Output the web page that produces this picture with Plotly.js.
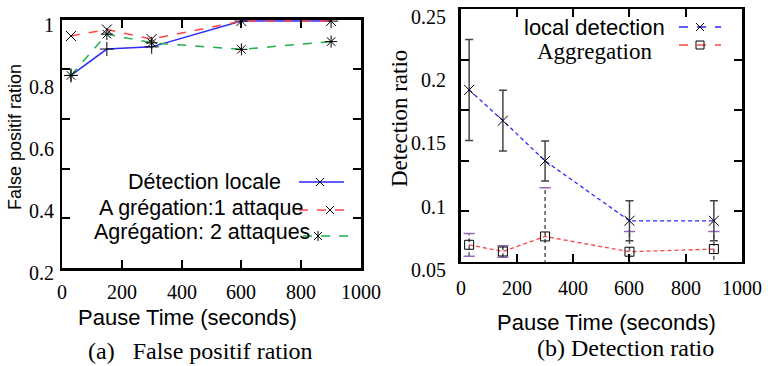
<!DOCTYPE html>
<html>
<head>
<meta charset="utf-8">
<script src="https://cdn.plot.ly/plotly-3.0.1.min.js"></script>
<style>html,body{margin:0;padding:0;background:#fff;}#chart{width:768px;height:366px;}</style>
</head>
<body>
<div id="chart"></div>
<script>
// ---------- data ----------
const pauseTimes = [30, 150, 300, 600, 900];
// (a) False positif ration
const fpLocal = [0.82, 0.905, 0.912, 0.995, 0.995];
const fpAgg1 = [0.947, 0.968, 0.937, 0.995, 0.995];
const fpAgg2 = [0.82, 0.953, 0.925, 0.904, 0.929];
// (b) Detection ratio
const drLocal = [0.186, 0.1617, 0.1298, 0.0824, 0.0824];
const drLocalErr = [0.040, 0.024, 0.0158, 0.0158, 0.0158];
const drAgg = [0.0634, 0.0581, 0.070, 0.0579, 0.060];
const drAggErr = [0.009, 0.0045, 0.0385, 0.016, 0.014];
// ticks
const xTickVals = [0, 200, 400, 600, 800, 1000];
const xTickText = ['0', '200', '400', '600', '800', '1000'];
const yTickValsA = [0.2, 0.4, 0.6, 0.8, 1];
const yTickTextA = ['0.2', '0.4', '0.6', '0.8', '1'];
const yMinorA = [0.36, 0.52, 0.68, 0.84];
const yTickValsB = [0.05, 0.1, 0.15, 0.2, 0.25];
const yTickTextB = ['0.05', '0.1', '0.15', '0.2', '0.25'];
const yMinorB = [0.09, 0.13, 0.17, 0.21];
const legendA = ['Détection locale', 'A grégation:1 attaque', 'Agrégation: 2 attaques'];
const legendB = ['local detection', 'Aggregation'];

// ---------- helpers ----------
const W = 768, H = 366;
const P = x => x / W;
const Q = y => 1 - y / H;
const SANS = 'Liberation Sans';
const SERIF = 'Liberation Serif';

// dashed error bars for aggregation, built from data
const aggErrX = [], aggErrY = [];
pauseTimes.forEach((x, i) => {
  aggErrX.push(x, x, null);
  aggErrY.push(drAgg[i] - drAggErr[i], drAgg[i] + drAggErr[i], null);
});
const aggCapX = pauseTimes.concat(pauseTimes);
const aggCapY = drAgg.map((v, i) => v + drAggErr[i]).concat(drAgg.map((v, i) => v - drAggErr[i]));

const mk = (sym) => ({symbol: sym, size: 10, color: 'black', line: {color: 'black', width: 1}});

const traces = [
  {x: pauseTimes, y: fpLocal, xaxis: 'x', yaxis: 'y', mode: 'lines+markers',
   line: {color: '#2a2aff', width: 1.5}, marker: mk('cross-thin')},
  {x: pauseTimes, y: fpAgg1, xaxis: 'x', yaxis: 'y', mode: 'lines+markers',
   line: {color: '#ff4545', width: 1.5, dash: 'dash'}, marker: mk('x-thin')},
  {x: pauseTimes, y: fpAgg2, xaxis: 'x', yaxis: 'y', mode: 'lines+markers',
   line: {color: '#22b04a', width: 1.5, dash: 'dash'}, marker: mk('asterisk')},
  // right
  {x: aggErrX, y: aggErrY, xaxis: 'x2', yaxis: 'y2', mode: 'lines',
   line: {color: '#555', width: 1.5, dash: '4px,3px'}, hoverinfo: 'skip'},
  {x: aggCapX, y: aggCapY, xaxis: 'x2', yaxis: 'y2', mode: 'markers',
   marker: {symbol: 'line-ew-open', size: 8, line: {color: '#555', width: 1.5}}},
  {x: pauseTimes, y: drLocal, xaxis: 'x2', yaxis: 'y2', mode: 'lines+markers',
   line: {color: '#2a2aff', width: 1.3, dash: '4px,3px'}, marker: mk('x-thin'),
   error_y: {type: 'data', array: drLocalErr, visible: true, color: '#444', thickness: 1.5, width: 4}},
  {x: pauseTimes, y: drAgg, xaxis: 'x2', yaxis: 'y2', mode: 'lines+markers',
   line: {color: '#ff4545', width: 1.3, dash: '4px,3px'},
   marker: {symbol: 'square-open', size: 9, color: 'black', line: {color: 'black', width: 1}}},
  // empty traces so the tick-only overlay axes get drawn
  {x: [], y: [], xaxis: 'x', yaxis: 'y3', mode: 'markers'},
  {x: [], y: [], xaxis: 'x2', yaxis: 'y4', mode: 'markers'}
];

const frame = {
  showline: true, linecolor: 'black', linewidth: 2.5, mirror: 'ticks',
  showgrid: false, zeroline: false, fixedrange: true, showticklabels: false,
  ticklen: 8, tickwidth: 2, tickcolor: 'black', tickmode: 'array'
};

const domXA = [P(62), P(361)], domYA = [Q(268), Q(19.5)];
const domXB = [P(460.7), P(742)], domYB = [Q(261.7), Q(9)];
const rangeA = [0.2, 1.0001], rangeB = [0.05, 0.2501];

const layout = {
  width: W, height: H,
  margin: {l: 0, r: 0, t: 0, b: 0},
  paper_bgcolor: 'white', plot_bgcolor: 'rgba(0,0,0,0)',
  showlegend: false,
  font: {family: SERIF, size: 20, color: 'black'},
  xaxis: Object.assign({}, frame, {domain: domXA, anchor: 'y', range: [0, 1000], tickvals: xTickVals, ticks: 'inside'}),
  yaxis: Object.assign({}, frame, {domain: domYA, anchor: 'x', range: rangeA, tickvals: yTickValsA, ticks: ''}),
  yaxis3: Object.assign({}, frame, {domain: domYA, anchor: 'x', overlaying: 'y', side: 'left', range: rangeA, tickvals: yMinorA, ticks: 'inside'}),
  xaxis2: Object.assign({}, frame, {domain: domXB, anchor: 'y2', range: [0, 1000], tickvals: xTickVals, ticks: 'inside'}),
  yaxis2: Object.assign({}, frame, {domain: domYB, anchor: 'x2', range: rangeB, tickvals: yTickValsB, ticks: ''}),
  yaxis4: Object.assign({}, frame, {domain: domYB, anchor: 'x2', overlaying: 'y2', side: 'left', range: rangeB, tickvals: yMinorB, ticks: 'inside'}),
  annotations: [],
  shapes: []
};

const ann = (text, x, y, family, size, extra) => layout.annotations.push(Object.assign({
  text: text, xref: 'paper', yref: 'paper', x: P(x), y: Q(y),
  xanchor: 'center', yanchor: 'middle', showarrow: false,
  font: {family: family, size: size, color: 'black'}
}, extra || {}));

// tick labels (placed through the axes' own scales)
const tickFont = {family: SERIF, size: 20, color: 'black'};
xTickVals.forEach((v, i) => {
  layout.annotations.push({text: xTickText[i], xref: 'x', yref: 'paper', x: v, y: Q(292),
    xanchor: 'center', yanchor: 'middle', showarrow: false, font: tickFont});
  layout.annotations.push({text: xTickText[i], xref: 'x2', yref: 'paper', x: v, y: Q(288),
    xanchor: 'center', yanchor: 'middle', showarrow: false, font: tickFont});
});
yTickValsA.forEach((v, i) => layout.annotations.push({text: yTickTextA[i], xref: 'paper', yref: 'y',
  x: P(56), y: v, yshift: -5, xanchor: 'right', yanchor: 'middle', showarrow: false, font: tickFont}));
yTickValsB.forEach((v, i) => layout.annotations.push({text: yTickTextB[i], xref: 'paper', yref: 'y2',
  x: P(448), y: v, yshift: -8, xanchor: 'right', yanchor: 'middle', showarrow: false, font: tickFont}));

ann('False positif ration', 15, 137, SANS, 18, {textangle: -90});
ann('Detection ratio', 399, 119, SERIF, 23, {textangle: -90});
ann('Pause Time (seconds)', 187, 317, SANS, 22);
ann('Pause Time (seconds)', 606, 322, SANS, 22);
ann('(a)\u00a0\u00a0 False positif ration', 200, 351, SERIF, 24);
ann('(b) Detection ratio', 625, 348, SERIF, 24);

// legends
ann(legendA[0], 204, 182, SANS, 21.5);
ann(legendA[1], 201, 208, SANS, 21.5);
ann(legendA[2], 202, 232, SANS, 21.5);
ann(legendB[0], 594, 28, SANS, 22);
ann(legendB[1], 594, 52, SERIF, 23);

const seg = (x0, y0, x1, y1, color, width, dash) => layout.shapes.push({
  type: 'line', xref: 'paper', yref: 'paper', x0: P(x0), y0: Q(y0), x1: P(x1), y1: Q(y1),
  line: {color: color, width: width, dash: dash || 'solid'}
});
const xGlyph = (cx, cy, r) => { seg(cx - r, cy - r, cx + r, cy + r, 'black', 1); seg(cx - r, cy + r, cx + r, cy - r, 'black', 1); };
const starGlyph = (cx, cy, r) => { xGlyph(cx, cy, r * 0.8); seg(cx, cy - r, cx, cy + r, 'black', 1); };
const sqGlyph = (cx, cy, r) => layout.shapes.push({
  type: 'rect', xref: 'paper', yref: 'paper', x0: P(cx - r), y0: Q(cy + r), x1: P(cx + r), y1: Q(cy - r),
  line: {color: 'black', width: 1}
});

seg(299, 182, 344, 182, '#2a2aff', 1.5); xGlyph(320, 182, 4);
seg(299, 210, 348, 210, '#ff4545', 1.5, 'dash'); xGlyph(330, 210, 4);
seg(303, 236, 348, 236, '#22b04a', 1.5, 'dash'); starGlyph(318, 236, 5);
seg(679, 27, 721, 27, '#2a2aff', 1.3, 'dash'); xGlyph(700, 27, 4);
seg(679, 45, 721, 45, '#ff4545', 1.3, 'dash'); sqGlyph(700, 45, 4);

Plotly.newPlot('chart', traces, layout, {displayModeBar: false, staticPlot: true});
</script>
</body>
</html>
